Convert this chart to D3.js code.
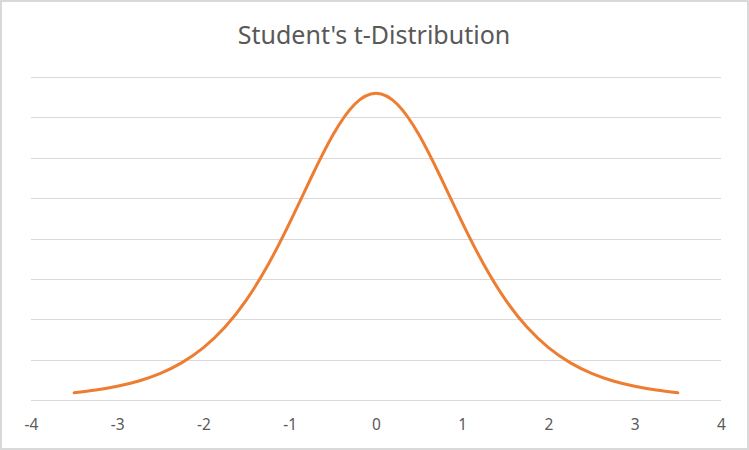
<html>
<head>
    <title>Student's t-Distribution</title>
    <script type="text/javascript" src="https://cdn.jsdelivr.net/npm/d3@7/dist/d3.min.js"></script>
    <style>
        body { margin: 0; background: white; }
        .tick-label { font-family: "Noto Sans", "Open Sans", sans-serif; font-size: 15.5px; fill: #595959; }
        .title { font-family: "Noto Sans", "Open Sans", sans-serif; font-size: 25px; fill: #595959; }
    </style>
</head>
<body>
    <div id="chart"></div>
    <script>
        var width = 749, height = 450;
        var title = "Student's t-Distribution";

        // t values and density
        var tValues = [-3.5, -3.25, -3, -2.75, -2.5, -2.25, -2, -1.75, -1.5, -1.25, -1, -0.75, -0.5, -0.25,
                       0, 0.25, 0.5, 0.75, 1, 1.25, 1.5, 1.75, 2, 2.25, 2.5, 2.75, 3, 3.25, 3.5];
        var density = [0.0092, 0.0126, 0.0173, 0.0239, 0.0333, 0.0466, 0.0651, 0.0905, 0.1245, 0.1679, 0.2197, 0.2757, 0.3279, 0.3657,
                       0.3796, 0.3657, 0.3279, 0.2757, 0.2197, 0.1679, 0.1245, 0.0905, 0.0651, 0.0466, 0.0333, 0.0239, 0.0173, 0.0126, 0.0092];
        var xTicks = [-4, -3, -2, -1, 0, 1, 2, 3, 4];
        var yGrid = [0, 0.05, 0.1, 0.15, 0.2, 0.25, 0.3, 0.35, 0.4];

        var plot = {left: 31, right: 721, top: 76.7, bottom: 400.3};

        var svg = d3.select("#chart").append("svg")
                    .attr("width", width)
                    .attr("height", height);

        svg.append("rect")
            .attr("x", 1).attr("y", 1)
            .attr("width", width - 2).attr("height", height - 2)
            .attr("fill", "white")
            .attr("stroke", "#d9d9d9")
            .attr("stroke-width", 2);

        var x = d3.scaleLinear().domain([-4, 4]).range([plot.left, plot.right]);
        var y = d3.scaleLinear().domain([0, 0.4]).range([plot.bottom, plot.top]);

        svg.append("text")
            .attr("class", "title")
            .attr("x", 374)
            .attr("y", 44)
            .attr("text-anchor", "middle")
            .text(title);

        // gridlines
        svg.append("g").selectAll("line")
            .data(yGrid)
            .enter().append("line")
            .attr("x1", plot.left).attr("x2", plot.right)
            .attr("y1", function(d){ return Math.round(y(d)) + 0.5; })
            .attr("y2", function(d){ return Math.round(y(d)) + 0.5; })
            .attr("stroke", "#d9d9d9")
            .attr("stroke-width", 1);

        // x axis labels
        var xAxis = d3.axisBottom(x).tickValues(xTicks).tickSize(0).tickPadding(0)
                      .tickFormat(function(d){ return d < 0 ? "-" + Math.abs(d) : String(d); });
        var ax = svg.append("g")
            .attr("transform", "translate(0," + (plot.bottom + 30) + ")")
            .call(xAxis);
        ax.select(".domain").remove();
        ax.selectAll("text").attr("class", "tick-label").attr("fill", null).attr("dy", null).attr("y", 0);

        var line = d3.line()
            .x(function(d, i){ return x(tValues[i]); })
            .y(function(d){ return y(d); })
            .curve(d3.curveNatural);

        svg.append("path")
            .datum(density)
            .attr("d", line)
            .attr("fill", "none")
            .attr("stroke", "#ED7D31")
            .attr("stroke-width", 3)
            .attr("stroke-linecap", "round");
    </script>
</body>
</html>
